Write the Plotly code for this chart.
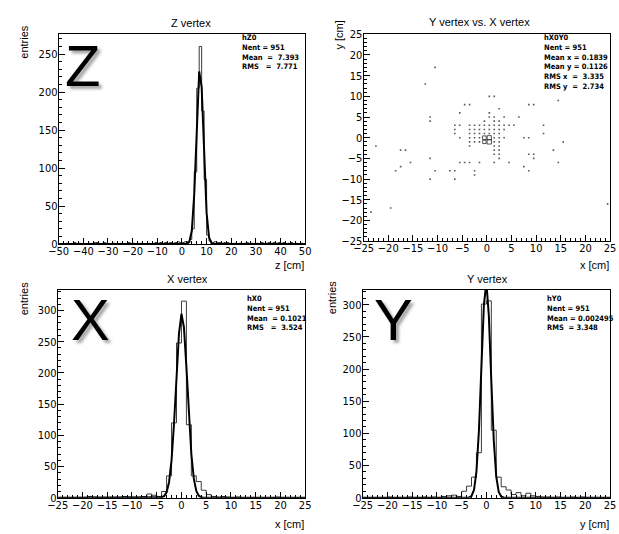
import numpy as np
import plotly.graph_objects as go

W, H = 619, 534

# ---------------- data ----------------
# Z vertex: 100 bins of 1 cm from -50 to 50
z_lo, z_hi = -50, 50
z_counts = [
    0, 0, 0, 1, 0, 0, 2, 0, 1, 0,
    0, 0, 1, 0, 2, 2, 1, 0, 2, 1,
    0, 0, 1, 0, 0, 1, 0, 0, 2, 0,
    1, 0, 0, 1, 0, 0, 1, 0, 0, 2,
    1, 2, 1, 2, 1, 2, 1, 2, 3, 2,
    2, 3, 3, 6, 20, 95, 205, 260, 175, 85,
    12, 4, 2, 3, 2, 2, 1, 2, 2, 1,
    0, 1, 0, 1, 0, 1, 2, 0, 1, 0,
    1, 0, 2, 0, 1, 2, 1, 2, 1, 2,
    1, 2, 0, 1, 2, 0, 1, 0, 1, 0,
]
z_fit = dict(amp=232, mean=7.3, sigma=1.45)

# X vertex: 50 bins of 1 cm from -25 to 25
x_lo, x_hi = -25, 25
x_counts = [
    0, 0, 0, 0, 0, 0, 2, 1, 0, 0,
    0, 0, 0, 2, 1, 0, 0, 2, 6, 4,
    2, 10, 35, 120, 248, 315, 117, 35, 26, 12,
    5, 2, 1, 2, 1, 0, 1, 0, 0, 0,
    0, 0, 0, 0, 1, 0, 0, 0, 0, 0,
]
x_fit = dict(amp=295, mean=0.05, sigma=1.15)

# Y vertex: 50 bins of 1 cm from -25 to 25
y_lo, y_hi = -25, 25
y_counts = [
    0, 0, 0, 0, 0, 1, 0, 0, 0, 1,
    0, 0, 1, 0, 1, 0, 2, 3, 4, 2,
    10, 18, 32, 70, 301, 306, 105, 32, 17, 12,
    5, 8, 3, 7, 3, 2, 1, 1, 0, 1,
    0, 0, 1, 0, 1, 0, 0, 0, 0, 0,
]
y_fit = dict(amp=335, mean=-0.05, sigma=0.95)

# Y vs X: occupied cells (x, y)
xy_x = [-10.5, -12.5, 0.5, 1.5, 14.5, -4.5, -3.5, 8.5, 9.5, 2.5, -5.5, 0.5,
        -11.5, 0.5, 1.5, 3.5, 6.5,
        -11.5, -0.5, 1.5, 2.5,
        -6.5, -5.5, -3.5, -2.5, -1.5, -0.5, 0.5, 1.5, 2.5, 3.5, 4.5, 5.5, 11.5,
        -6.5, -3.5, -2.5, -1.5, -0.5, 0.5, 1.5, 2.5, 3.5,
        -6.5, -3.5, -2.5, -1.5, -0.5, 0.5, 1.5, 2.5, 11.5,
        -5.5, -3.5, -2.5, -1.5, 1.5, 2.5, 3.5, 7.5, 8.5, -0.5, 0.5,
        -3.5, -2.5, -1.5, 1.5, 2.5, 15.5, -0.5, 0.5,
        -22.5, -3.5, 1.5, 2.5,
        -17.5, -16.5, 1.5, 2.5, 13.5,
        1.5, 2.5, 8.5, 9.5,
        -11.5, 2.5, 9.5,
        -15.5, -5.5, -4.5, -3.5, -1.5, 1.5, 4.5, 14.5,
        -17.5, 7.5,
        -18.5, -10.5, -7.5, -6.5, -2.5, 8.5,
        -2.5,
        -11.5, -6.5,
        24.5, -19.5, -23.5]
xy_y = [17, 13, 10, 10, 9, 8, 8, 8, 8, 7, 6, 6,
        5, 5, 5, 5, 5,
        4, 4, 4, 4,
        3, 3, 3, 3, 3, 3, 3, 3, 3, 3, 3, 3, 3,
        2, 2, 2, 2, 2, 2, 2, 2, 2,
        1, 1, 1, 1, 1, 1, 1, 1, 1,
        0, 0, 0, 0, 0, 0, 0, 0, 0, 0, 0,
        -1, -1, -1, -1, -1, -1, -1, -1,
        -2, -2, -2, -2,
        -3, -3, -3, -3, -3,
        -4, -4, -4, -4,
        -5, -5, -5,
        -6, -6, -6, -6, -6, -6, -6, -6,
        -7, -7,
        -8, -8, -8, -8, -8, -8,
        -9,
        -10, -10,
        -16, -17, -18]
# cell contents: the four central cells hold most of the entries
big_cells = {(-0.5, 0): 150, (0.5, 0): 170, (-0.5, -1): 140, (0.5, -1): 180}
xy_n = [big_cells.get((a, b), 1) for a, b in zip(xy_x, xy_y)]

stats = {
    "z": ["hZ0", "Nent = 951", "Mean  =  7.393", "RMS   =  7.771"],
    "xy": ["hX0Y0", "Nent = 951", "Mean x = 0.1839", "Mean y = 0.1126",
           "RMS x  =  3.335", "RMS y  =  2.734"],
    "x": ["hX0", "Nent = 951", "Mean  = 0.1021", "RMS   =  3.524"],
    "y": ["hY0", "Nent = 951", "Mean = 0.002495", "RMS  = 3.348"],
}

# ---------------- layout helpers ----------------
# plot frames in pixels: (left, right, top, bottom)
frames = {
    "z": (50, 303, 29, 244),
    "xy": (363, 616, 29, 241),
    "x": (49, 303, 291, 504),
    "y": (362, 616, 291, 504),
}


def px(x):
    return x / W


def py(y):
    return 1 - y / H


def dom(key):
    l, r, t, b = frames[key]
    return [px(l), px(r)], [py(b), py(t)]


TICK_FONT = dict(family="Liberation Sans Narrow, DejaVu Sans Condensed, Arial",
                 size=11, color="black")
TEXT_FONT = "Liberation Sans, Arial"


def axis(domain, rng, dtick, minor, anchor, standoff):
    return dict(
        domain=domain, range=rng, anchor=anchor,
        showgrid=False, zeroline=False,
        showline=True, linecolor="black", linewidth=1, mirror=True,
        ticks="inside", ticklen=6, tickwidth=1, tickcolor="black",
        dtick=dtick, tick0=0, ticklabelstandoff=standoff,
        minor=dict(ticks="inside", ticklen=3, dtick=minor, tickcolor="black",
                   tickwidth=1, showgrid=False),
        tickfont=TICK_FONT, fixedrange=True,
    )


def step_xy(lo, counts):
    edges = [lo + i for i in range(len(counts) + 1)]
    return edges, list(counts) + [counts[-1]]


def gauss_curve(lo, hi, p, npx=100):
    xs = np.linspace(lo, hi, npx + 1)
    return xs, p["amp"] * np.exp(-0.5 * ((xs - p["mean"]) / p["sigma"]) ** 2)


fig = go.Figure()

HIST_LINE = dict(color="#3a3a3a", width=1, shape="hv")
FIT_LINE = dict(color="black", width=2)

# Z vertex
ex, ey = step_xy(z_lo, z_counts)
fig.add_trace(go.Scatter(x=ex, y=ey, mode="lines", line=HIST_LINE, xaxis="x", yaxis="y"))
fx, fy = gauss_curve(z_lo, z_hi, z_fit)
fig.add_trace(go.Scatter(x=fx, y=fy, mode="lines", line=FIT_LINE, xaxis="x", yaxis="y"))

# Y vs X, drawn as boxes scaled by cell content (tiny dots for sparse cells)
nmax = max(xy_n)
box_side = [4.4 * n / nmax for n in xy_n]
is_box = [s >= 2 for s in box_side]
fig.add_trace(go.Scatter(
    x=xy_x, y=xy_y, mode="markers", xaxis="x2", yaxis="y2",
    marker=dict(symbol=["square-open" if b else "square" for b in is_box],
                size=[s if b else 1.6 for s, b in zip(box_side, is_box)],
                color="#111111",
                line=dict(color="black", width=[1 if b else 0 for b in is_box]))))

# X vertex
ex, ey = step_xy(x_lo, x_counts)
fig.add_trace(go.Scatter(x=ex, y=ey, mode="lines", line=HIST_LINE, xaxis="x3", yaxis="y3"))
fx, fy = gauss_curve(x_lo, x_hi, x_fit)
fig.add_trace(go.Scatter(x=fx, y=fy, mode="lines", line=FIT_LINE, xaxis="x3", yaxis="y3"))

# Y vertex
ex, ey = step_xy(y_lo, y_counts)
fig.add_trace(go.Scatter(x=ex, y=ey, mode="lines", line=HIST_LINE, xaxis="x4", yaxis="y4"))
fx, fy = gauss_curve(y_lo, y_hi, y_fit)
fig.add_trace(go.Scatter(x=fx, y=fy, mode="lines", line=FIT_LINE, xaxis="x4", yaxis="y4"))

zx, zy = dom("z")
xyx, xyy = dom("xy")
xx, xy_ = dom("x")
yx, yy = dom("y")

layout = dict(
    width=W, height=H, margin=dict(l=0, r=0, t=0, b=0),
    paper_bgcolor="white", plot_bgcolor="white", showlegend=False,
    xaxis=axis(zx, [z_lo, z_hi], 10, 2, "y", -3),
    yaxis=axis(zy, [0, 276], 50, 10, "x", -2),
    xaxis2=axis(xyx, [-25, 25], 5, 1, "y2", -3),
    yaxis2=axis(xyy, [-25, 25], 5, 1, "x2", -2),
    xaxis3=axis(xx, [x_lo, x_hi], 5, 1, "y3", -3),
    yaxis3=axis(xy_, [0, 333], 50, 10, "x3", -2),
    xaxis4=axis(yx, [y_lo, y_hi], 5, 1, "y4", -3),
    yaxis4=axis(yy, [0, 323], 50, 10, "x4", -2),
)
fig.update_layout(**layout)

ann = []


def text(x, y, s, size=11, xa="center", ya="middle", angle=0, family=TEXT_FONT, **kw):
    ann.append(dict(x=px(x), y=py(y), xref="paper", yref="paper", text=s,
                    showarrow=False, xanchor=xa, yanchor=ya, textangle=angle,
                    borderpad=0,
                    font=dict(family=family, size=size, color="black", **kw)))


# panel titles
text(186, 17, "Z vertex")
text(482, 16, "Y vertex vs. X vertex")
text(182, 280, "X vertex")
text(490, 280, "Y vertex")

# axis titles
text(14, 37, "entries", angle=-90)
text(14, 300, "entries", angle=-90)
text(330, 298, "entries", angle=-90)
text(338, 30, "y [cm]", angle=-90)
text(303, 265, "z [cm]", xa="right")
text(616, 265, "x [cm]", xa="right")
text(303, 531, "x [cm]", xa="right")
text(616, 531, "y [cm]", xa="right")

# statistics boxes
STAT_FONT = "Liberation Sans Narrow, DejaVu Sans Condensed, Arial"
for key, (x0, y0) in {"z": (237, 27), "xy": (547, 27), "x": (242, 294), "y": (550, 294)}.items():
    body = "<br>".join("<b>" + s.replace(" ", "\u00a0") + "</b>" for s in stats[key])
    text(x0, y0, body, size=7.5, xa="left", ya="top", family=STAT_FONT)
    ann[-1]["align"] = "left"

# large panel letters
SHADOW = "3px 3px 3px rgba(0,0,0,0.35)"
for letter, (cx, cy) in {"Z": (74, 61), "X": (83, 321), "Y": (394, 321)}.items():
    text(cx, cy, letter, size=58, shadow=SHADOW)

fig.update_layout(annotations=ann)
fig.write_html("out.html")
